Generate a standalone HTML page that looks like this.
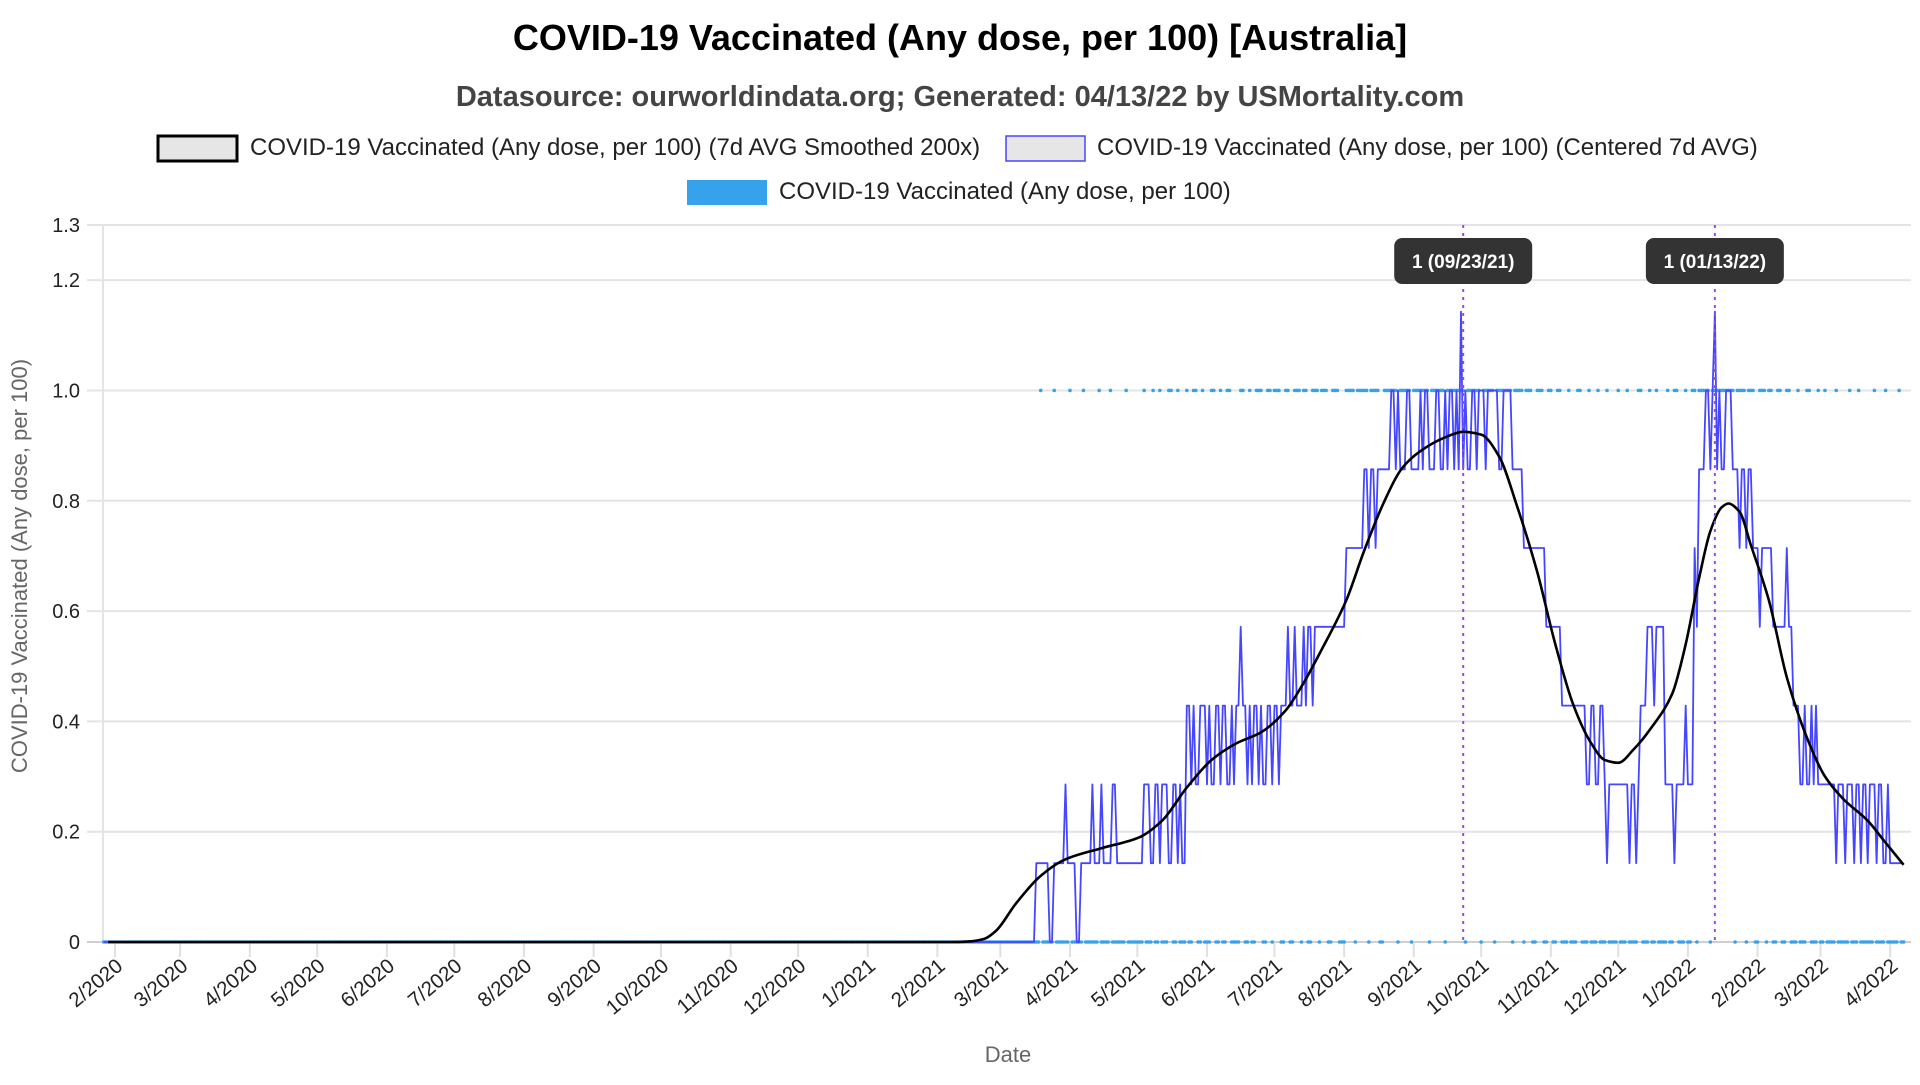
<!DOCTYPE html>
<html><head><meta charset="utf-8"><style>
html,body{margin:0;padding:0;background:#fff;}
svg text{font-family:"Liberation Sans",sans-serif;}
</style></head><body>
<svg id="chart" width="1920" height="1080" viewBox="0 0 1920 1080" xmlns="http://www.w3.org/2000/svg">
<text x="960" y="50" text-anchor="middle" font-size="36" font-weight="bold" fill="#000">COVID-19 Vaccinated (Any dose, per 100) [Australia]</text>
<text x="960" y="106" text-anchor="middle" font-size="29" font-weight="bold" fill="#444">Datasource: ourworldindata.org; Generated: 04/13/22 by USMortality.com</text>
<g>
<g>
<rect x="158" y="136" width="79" height="25" fill="#e6e6e6" stroke="#000" stroke-width="3"/>
<text x="250" y="155" font-size="24" fill="#222">COVID-19 Vaccinated (Any dose, per 100) (7d AVG Smoothed 200x)</text></g>
<g>
<rect x="1006" y="136" width="79" height="25" fill="#e6e6e6" stroke="#4646ff" stroke-width="1.5"/>
<text x="1097" y="155" font-size="24" fill="#222">COVID-19 Vaccinated (Any dose, per 100) (Centered 7d AVG)</text></g>
<g>
<rect x="687" y="180" width="80" height="25" fill="#36a2eb"/>
<text x="779" y="199" font-size="24" fill="#222">COVID-19 Vaccinated (Any dose, per 100)</text></g>
</g>
<g id="grid"></g><g id="axes"></g><g id="series"></g><g id="annot"></g>
<text transform="translate(27,566) rotate(-90)" text-anchor="middle" font-size="22" fill="#666">COVID-19 Vaccinated (Any dose, per 100)</text>
<text x="1008" y="1062" text-anchor="middle" font-size="22" fill="#666">Date</text>
</svg>
<script>
const yTicks=[0,0.2,0.4,0.6,0.8,1.0,1.2,1.3];
const yTickLabels=["0","0.2","0.4","0.6","0.8","1.0","1.2","1.3"];
const monthLabels=["2/2020","3/2020","4/2020","5/2020","6/2020","7/2020","8/2020","9/2020","10/2020","11/2020","12/2020","1/2021","2/2021","3/2021","4/2021","5/2021","6/2021","7/2021","8/2021","9/2021","10/2021","11/2021","12/2021","1/2022","2/2022","3/2022","4/2022"];
const monthDays=[0,29,60,90,121,151,182,213,243,274,304,335,366,394,425,455,486,516,547,578,608,639,669,700,731,759,790];
// centered 7d avg: run lengths (days) and levels (in sevenths), starting day -5
const stepRuns=[415,6,2,5,1,4,2,5,1,3,1,4,2,12,
3,2,2,1,3,2,2,1,1,2,
2,1,1,2,3,1,1,2,2,1,2,2,1,1,2,
1,2,1,1,1,2,1,1,2,2,1,2,1,3,
1,2,1,3,1,1,2,1,4,10,
8,2,1,2,1,6,
2,1,1,3,2,4,1,1,2,3,2,2,1,1,2,1,1,1,1,1,1,2,2,1,3,1,5,2,2,2,
5,10,7,11,2,2,2,2,1,1,9,1,2,1,1,3,3,1,4,4,1,4,1,3,1,1,3,2,1,1,1,1,1,2,3,
3,1,2,1,2,3,1,5,6,1,2,3,2,1,2,1,1,1,3,5,
1,3,1,3,1,2,1,2,1,3,1,2,2,1,1,5];
const stepLevels=[0,1,0,1,2,1,0,1,2,1,2,1,2,1,
2,1,2,1,2,1,2,1,2,1,
3,2,3,2,3,2,3,2,3,2,3,2,3,2,3,
4,3,2,3,2,3,2,3,2,3,2,3,2,3,
4,3,4,3,4,3,4,3,4,4,
5,6,5,6,5,6,
7,6,7,6,7,6,7,6,7,6,7,6,7,6,7,6,7,6,8,6,7,6,7,6,7,6,7,6,7,7,
6,5,4,3,2,3,2,3,2,1,2,1,2,1,2,3,4,3,4,2,1,2,3,2,5,4,6,7,6,7,8,6,7,6,7,
6,5,6,5,6,5,4,5,4,5,4,3,2,3,2,3,2,3,2,2,
1,2,1,2,1,2,1,2,1,2,1,2,1,2,1,1];
// smoothed series: sample days and values
const smoothDays=[-3,50,100,150,200,250,300,350,372,380,387,392,401,412,423,439,456,466,477,488,499,510,521,529,537,548,556,565,573,581,592,600,608,616,624,633,641,649,657,663,669,676,684,693,699,705,710,715,718,723,728,736,744,753,761,769,780,788,796];
const smoothVals=[0,0,0,0,0,0,0,0,0,0.001,0.006,0.02,0.07,0.12,0.15,0.17,0.19,0.22,0.28,0.33,0.36,0.38,0.42,0.47,0.53,0.62,0.71,0.80,0.86,0.89,0.915,0.925,0.92,0.88,0.79,0.67,0.54,0.43,0.36,0.33,0.325,0.35,0.39,0.45,0.54,0.66,0.745,0.788,0.795,0.78,0.72,0.62,0.48,0.37,0.30,0.26,0.22,0.18,0.14];
// daily raw values: alternating run lengths starting with value 1 at day 412 (zeros before, from day -5)
const rawStartDay=412;
const rawRuns=[1,5,1,6,1,5,1,6,1,4,1,6,1,7,
1,3,1,2,1,3,2,2,1,3,1,2,2,2,1,3,2,2,1,2,2,4,
2,2,1,2,3,2,2,1,3,2,2,2,3,1,2,2,3,1,3,2,3,3,
4,1,5,1,4,2,6,1,5,1,7,1,6,1,8,1,6,1,5,1,7,
1,4,1,3,2,3,2,2,2,2,3,1,3,2,3,1,3,1,3,
1,4,1,3,1,4,2,3,1,2,1,4,1,2,2,3,1,2,2,
1,5,1,10,
1,4,1,3,2,3,1,2,2,2,2,2,3,1,3,2,3,1,2,
1,4,1,5,1,3,1,6,1,4,1,5,1,2];
const annotDays=[600,712];
const annotLabels=["1 (09/23/21)","1 (01/13/22)"];

const NS="http://www.w3.org/2000/svg";
const X0=103,X1=1911,Y0=942,YTOP=225;
function xs(d){return 115+d*2.247;}
function ys(v){return Y0-v*(Y0-YTOP)/1.3;}
function mk(tag,attrs,parent){const e=document.createElementNS(NS,tag);for(const k in attrs)e.setAttribute(k,attrs[k]);parent.appendChild(e);return e;}
const grid=document.getElementById('grid'),axes=document.getElementById('axes'),series=document.getElementById('series'),annot=document.getElementById('annot');
yTicks.forEach((v,i)=>{
  const l=mk('line',{x1:87,x2:X1,y1:ys(v),y2:ys(v),stroke:i===0?'#cfcfcf':'#e4e4e4','stroke-width':2},grid);
  
  
  const t=mk('text',{x:80,y:ys(v)+7,'text-anchor':'end','font-size':20,fill:'#222'},axes);
  t.textContent=yTickLabels[i];
  
  
});
const ax=mk('line',{x1:X0,x2:X0,y1:YTOP,y2:Y0,stroke:'#e4e4e4','stroke-width':2},grid);


monthDays.forEach((d,i)=>{
  const x=xs(d);
  const tk=mk('line',{x1:x,x2:x,y1:Y0,y2:Y0+15,stroke:'#e0e0e0','stroke-width':2},axes);
  
  
  const t=mk('text',{x:0,y:0,'text-anchor':'end','font-size':20.5,fill:'#222',transform:`translate(${x+9},${Y0+26}) rotate(-40)`},axes);
  t.textContent=monthLabels[i];
  
  
});
let raw=[];for(let d=-5;d<rawStartDay;d++)raw.push([d,0]);
let dd=rawStartDay,val=1;rawRuns.forEach(n=>{for(let k=0;k<n;k++){raw.push([dd,val]);dd++;}val=1-val;});
const dots=mk('g',{fill:'#36a2eb'},series);


raw.forEach(p=>{mk('circle',{cx:xs(p[0]),cy:ys(p[1]),r:1.8},dots);});
let pts=[];let d2=-5;stepRuns.forEach((n,i)=>{for(let k=0;k<n;k++){pts.push([d2,stepLevels[i]/7]);d2++;}});
const pl=mk('polyline',{points:pts.map(p=>xs(p[0]).toFixed(1)+','+ys(p[1]).toFixed(1)).join(' '),fill:'none',stroke:'#4646ff','stroke-width':1.8,'stroke-linejoin':'round'},series);


// monotone cubic interpolation
const sp=smoothDays.map((d,i)=>[xs(d),ys(smoothVals[i])]);
const n=sp.length,dx=[],sl=[],m=[];
for(let i=0;i<n-1;i++){dx.push(sp[i+1][0]-sp[i][0]);sl.push((sp[i+1][1]-sp[i][1])/dx[i]);}
m[0]=sl[0];m[n-1]=sl[n-2];
for(let i=1;i<n-1;i++){if(sl[i-1]*sl[i]<=0)m[i]=0;else{const w1=2*dx[i]+dx[i-1],w2=dx[i]+2*dx[i-1];m[i]=(w1+w2)/(w1/sl[i-1]+w2/sl[i]);}}
let path='M'+sp[0][0].toFixed(1)+','+sp[0][1].toFixed(1);
for(let i=0;i<n-1;i++){const h=dx[i]/3;
 path+=` C${(sp[i][0]+h).toFixed(1)},${(sp[i][1]+m[i]*h).toFixed(1)} ${(sp[i+1][0]-h).toFixed(1)},${(sp[i+1][1]-m[i+1]*h).toFixed(1)} ${sp[i+1][0].toFixed(1)},${sp[i+1][1].toFixed(1)}`;}
const sm=mk('path',{d:path,fill:'none',stroke:'#000','stroke-width':2.6},series);


annotDays.forEach((d,i)=>{
  const x=xs(d);
  const l=mk('line',{x1:x,x2:x,y1:YTOP,y2:Y0,stroke:'#a63cff','stroke-width':2,'stroke-dasharray':'3,5'},annot);
  
  
  const r=mk('rect',{x:x-69,y:238,width:138,height:46,rx:8,fill:'#333'},annot);
  
  
  const t=mk('text',{x:x,y:268,'text-anchor':'middle','font-size':19,'font-weight':'bold',fill:'#fff'},annot);
  t.textContent=annotLabels[i];
  
  
});
</script>
</body></html>
